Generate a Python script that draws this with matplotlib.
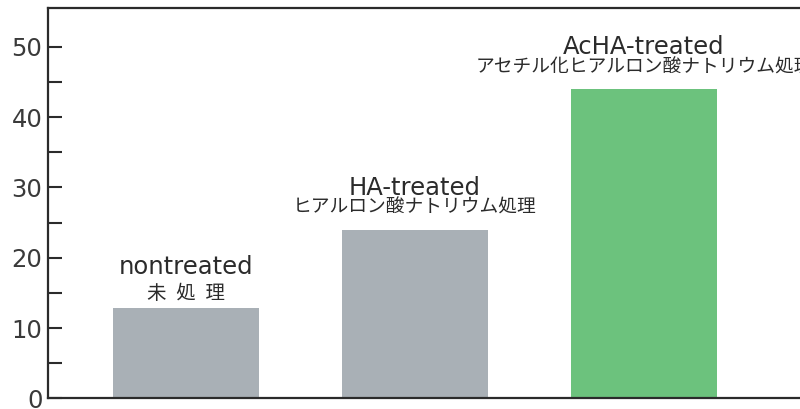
import matplotlib
matplotlib.use("Agg")
import matplotlib.pyplot as plt
from matplotlib.ticker import MultipleLocator, FixedLocator

# data
groups_en = ["nontreated", "HA-treated", "AcHA-treated"]
groups_ja = ["未\u2002処\u2002理", "ヒアルロン酸ナトリウム処理", "アセチル化ヒアルロン酸ナトリウム処理"]
values = [12.8, 24.0, 44.0]
bar_colors = ["#a9b0b6", "#a9b0b6", "#6cc27d"]
minor_ticks = [5, 15, 25, 35, 45]

INK = "#2b2b2b"
JA = ["Noto Sans CJK JP", "DejaVu Sans"]


def main():
    fig = plt.figure(figsize=(8.0, 4.09), dpi=100)
    ax = fig.add_axes([0.06, 0.0257, 0.94, 0.9547])

    x = range(len(values))
    ax.bar(x, values, width=0.64, color=bar_colors, edgecolor="none")

    ax.set_xlim(-0.603, 2.681)
    ax.set_ylim(0, 55.5)
    ax.yaxis.set_major_locator(MultipleLocator(10))
    ax.yaxis.set_minor_locator(FixedLocator(minor_ticks))
    ax.set_xticks([])
    ax.tick_params(axis="y", which="both", direction="in", length=10,
                   width=1.5, color=INK, pad=4)
    ax.tick_params(axis="y", labelsize=17.5, labelcolor="#3a3a3a")
    for lab in ax.get_yticklabels():
        lab.set_family("DejaVu Sans")
    ax.spines["right"].set_visible(False)
    for s in ("left", "top", "bottom"):
        ax.spines[s].set_linewidth(1.6)
        ax.spines[s].set_color(INK)

    # label offsets above each bar (points)
    ja_off = [6.5, 12.0, 12.0]
    ja_size = [14, 13.5, 13.5]
    for i, v in enumerate(values):
        ax.annotate(groups_ja[i], (i, v), xytext=(0, ja_off[i]),
                    textcoords="offset points", ha="center", va="baseline",
                    fontsize=ja_size[i], family=JA, color=INK)
        ax.annotate(groups_en[i], (i, v), xytext=(0, 25.0),
                    textcoords="offset points", ha="center", va="baseline",
                    fontsize=17.5, family="DejaVu Sans", color=INK)

    fig.savefig("out.png", dpi=100)
    plt.close(fig)


if __name__ == "__main__":
    main()
